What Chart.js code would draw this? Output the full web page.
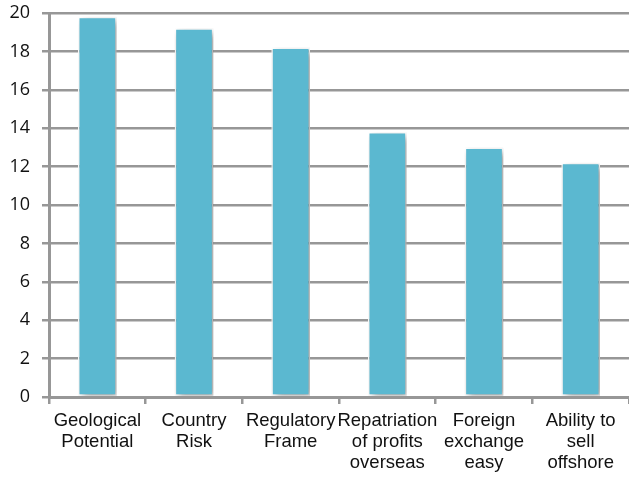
<!DOCTYPE html>
<html>
<head>
<meta charset="utf-8">
<script src="https://cdn.jsdelivr.net/npm/chart.js@4"></script>
<style>
  html, body { margin: 0; padding: 0; background: #ffffff; }
  #wrap { width: 629px; height: 480px; position: relative; }
</style>
</head>
<body>
<div id="wrap"><canvas id="chart" width="629" height="480"></canvas></div>
<script>
// Investment decision factors and their scores
const categories = [
  ["Geological", "Potential"],
  ["Country", "Risk"],
  ["Regulatory", "Frame"],
  ["Repatriation", "of profits", "overseas"],
  ["Foreign", "exchange", "easy"],
  ["Ability to", "sell", "offshore"]
];
const scores = [19.8, 19.2, 18.2, 13.8, 13.0, 12.2];
const yTicks = [0, 2, 4, 6, 8, 10, 12, 14, 16, 18, 20];

const gridGray = '#979797';

// Soft drop shadow behind the bars
const barShadow = {
  id: 'barShadow',
  beforeDatasetsDraw(chart) {
    const ctx = chart.ctx;
    ctx.save();
    ctx.shadowColor = 'rgba(0,0,0,0.4)';
    ctx.shadowBlur = 7;
    ctx.shadowOffsetX = 3;
    ctx.shadowOffsetY = 3;
  },
  afterDatasetsDraw(chart) {
    chart.ctx.restore();
  }
};

new Chart(document.getElementById('chart'), {
  type: 'bar',
  data: {
    labels: categories,
    datasets: [{
      data: scores,
      backgroundColor: '#5bb8d0',
      borderColor: '#ffffff',
      borderWidth: 1.5,
      borderSkipped: false,
      barPercentage: 0.4,
      categoryPercentage: 1.0
    }]
  },
  options: {
    responsive: false,
    animation: false,
    events: [],
    layout: { padding: { top: 13, right: 0, left: 0, bottom: 0 } },
    plugins: {
      legend: { display: false },
      tooltip: { enabled: false }
    },
    scales: {
      x: {
        offset: true,
        grid: {
          offset: true,
          drawOnChartArea: false,
          drawTicks: true,
          tickLength: 7,
          color: gridGray,
          lineWidth: 2.5
        },
        border: { color: gridGray, width: 3 },
        ticks: {
          color: '#111111',
          font: { family: '"Liberation Sans", Arial, sans-serif', size: 18.5, lineHeight: 1.15 },
          padding: 6,
          maxRotation: 0,
          autoSkip: false
        },
        afterFit(axis) { axis.height = 83; }
      },
      y: {
        min: 0,
        max: 20,
        afterBuildTicks(axis) { axis.ticks = yTicks.map(v => ({ value: v })); },
        grid: {
          color: gridGray,
          lineWidth: 2.5,
          tickLength: 7
        },
        border: { color: gridGray, width: 3 },
        ticks: {
          color: '#111111',
          font: { family: '"Open Sans", sans-serif', size: 18 },
          padding: 12
        },
        afterFit(axis) {
          axis.width = 49;
          axis.paddingTop = 0;
        }
      }
    }
  },
  plugins: [barShadow]
});
</script>
</body>
</html>
